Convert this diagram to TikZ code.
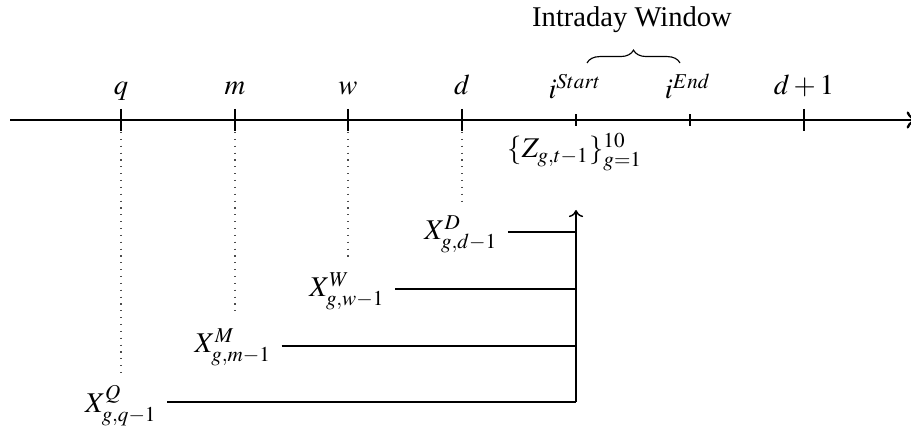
\documentclass[tikz,border=0pt]{standalone}
\usepackage{mathptmx}
\usepackage[no-math]{fontspec}
\setmainfont{Liberation Serif}
\usetikzlibrary{decorations.pathreplacing,arrows.meta}
\tikzset{
  axisline/.style={line width=0.8pt},
  tickmark/.style={line width=0.4pt},
  dotline/.style={dotted, line width=0.4pt, black!70},
  feed/.style={line width=0.5pt},
  lab/.style={inner sep=0pt, anchor=base},
  xlab/.style={inner sep=3.4pt, anchor=base}
}
\begin{document}
\begin{tikzpicture}[x=0.35pt,y=-0.35pt]
\useasboundingbox (0,0) rectangle (911,435);
\clip (0,0) rectangle (911,435);
% axis
\coordinate (a0) at (10,120);
\coordinate (a1) at (918,120);
\draw[axisline,-{To[length=4pt,width=6pt]}] (a0) -- (a1);
% tick positions
\coordinate (tq) at (121,120);
\coordinate (tm) at (235,120);
\coordinate (tw) at (348,120);
\coordinate (td) at (462,120);
\coordinate (ts) at (576,120);
\coordinate (te) at (690,120);
\coordinate (tn) at (804,120);
\foreach \t in {tq,tm,tw,td,tn}{
  \draw[tickmark] ([yshift=3.9pt]\t) -- ([yshift=-3.9pt]\t);
}
\foreach \t in {ts,te}{
  \draw[tickmark] ([yshift=2pt]\t) -- ([yshift=-2pt]\t);
}
% labels above
\node[lab] (lq) at (121,95) {$q$};
\node[lab] (lm) at (235,95) {$m$};
\node[lab] (lw) at (348,95) {$w$};
\node[lab] (ld) at (462,95) {$d$};
\node[lab] (ls) at (575,99) {$i^{Start}$};
\node[lab] (le) at (688,99) {$i^{End}$};
\node[lab] (ln) at (804,95) {$d+1$};
% brace and window label
\coordinate (b0) at (587,63);
\coordinate (b1) at (680,63);
\draw[line width=0.4pt, decorate, decoration={brace, amplitude=4.5pt}] (b0) -- (b1);
\node (win) at (632,20) {Intraday Window};
% Z label
\node (zl) at (575,152) {$\{Z_{g,t-1}\}_{g=1}^{10}$};
% dotted drops
\coordinate (dq) at (121,373);
\coordinate (dm) at (235,317);
\coordinate (dw) at (348,258);
\coordinate (dd) at (462,202);
\draw[dotline] ([yshift=-4.2pt]tq) -- (dq);
\draw[dotline] ([yshift=-4.2pt]tm) -- (dm);
\draw[dotline] ([yshift=-4.2pt]tw) -- (dw);
\draw[dotline] ([yshift=-4.2pt]td) -- (dd);
% X labels
\node[xlab] (xq) at (121,413) {$X^{Q}_{g,q-1}$};
\node[xlab] (xm) at (233,353) {$X^{M}_{g,m-1}$};
\node[xlab] (xw) at (347,297) {$X^{W}_{g,w-1}$};
\node[xlab] (xd) at (461,240) {$X^{D}_{g,d-1}$};
% vertical arrow
\coordinate (vb) at (576,402);
\coordinate (vt) at (576,210);
\draw[feed,-{To[length=2.5pt,width=5pt]}] (vb) -- (vt);
\coordinate (eq) at (576,402);
\coordinate (em) at (576,346);
\coordinate (ew) at (576,289);
\coordinate (ed) at (576,232);
\draw[feed] (xq.east |- eq) -- (eq);
\draw[feed] (xm.east |- em) -- (em);
\draw[feed] (xw.east |- ew) -- (ew);
\draw[feed] (xd.east |- ed) -- (ed);
\end{tikzpicture}
\end{document}
